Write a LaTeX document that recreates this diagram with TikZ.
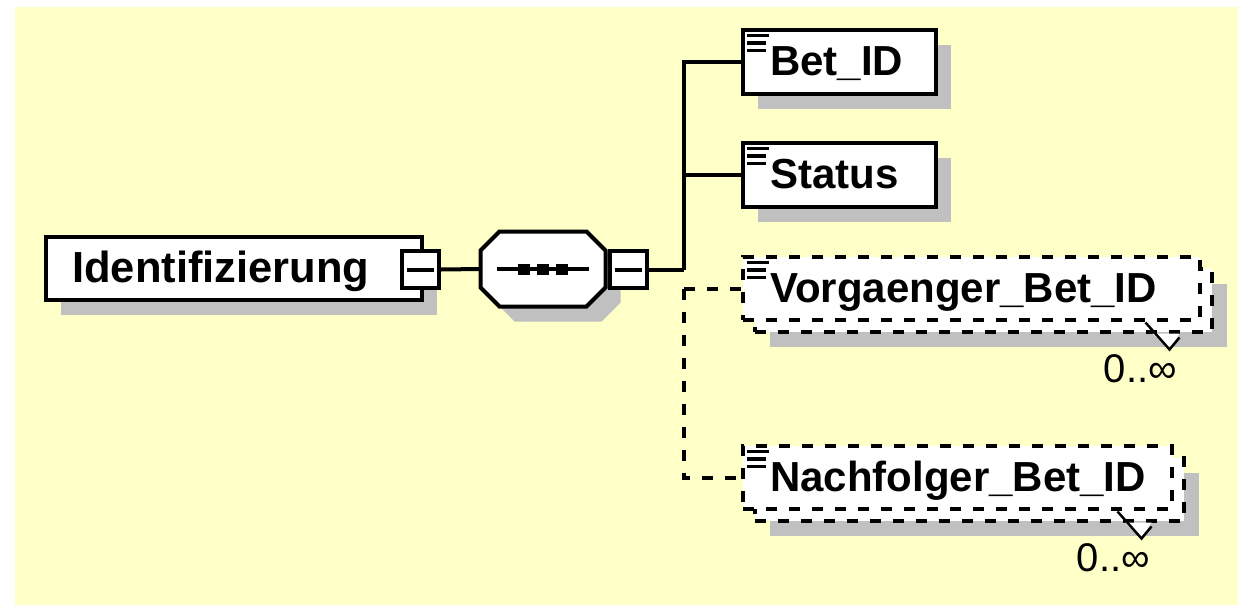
\documentclass[tikz,border=0pt]{standalone}
\usepackage{fontspec}
\setmainfont{Liberation Sans}
\usetikzlibrary{shadows}
\definecolor{bgyellow}{RGB}{255,255,200}
\definecolor{shadowgray}{RGB}{192,192,192}
\tikzset{
  shad/.style={drop shadow={shadow xshift=15pt,shadow yshift=-15pt,fill=shadowgray,opacity=1}},
  elbox/.style={draw=black,line width=4pt,fill=white,inner sep=0pt,anchor=north west},
  eltext/.style={font=\bfseries\fontsize{42}{42}\selectfont,inner sep=0pt,anchor=base west},
  dsh/.style={dash pattern=on 11pt off 12pt},
  conn/.style={line width=4pt},
  minusbox/.style={draw=black,line width=4pt,fill=white,minimum size=37pt,inner sep=0pt},
  occ/.style={font=\fontsize{40}{40}\selectfont,inner sep=0pt,anchor=base east},
  notchline/.style={line width=2.5pt},
}
\newcommand\elicon[1]{%
  \foreach \dy/\len in {7.5/22,15/19,22.5/19}
    \draw[line width=3.2pt] ([xshift=6pt,yshift=-\dy pt]#1.north west) -- ++(\len,0);}
\newcommand\elnotch[1]{%
  \fill[white] ([xshift=-61pt]#1.south east) -- ([xshift=-44pt,yshift=-16pt]#1.south east) -- ([xshift=-34pt]#1.south east) -- cycle;
  \draw[notchline] ([xshift=-68pt,yshift=11pt]#1.south east) -- ([xshift=-44pt,yshift=-16pt]#1.south east) -- ([xshift=-34pt,yshift=-4pt]#1.south east);}
% octagon around node #1, shifted by (#3,#4), path options #2
\newcommand\octshape[4]{%
  \path[#2] ([xshift=#3-43.5pt,yshift=#4+37.5pt]#1.center) -- ([xshift=#3+43.5pt,yshift=#4+37.5pt]#1.center)
    -- ([xshift=#3+62.5pt,yshift=#4+18.5pt]#1.center) -- ([xshift=#3+62.5pt,yshift=#4-18.5pt]#1.center)
    -- ([xshift=#3+43.5pt,yshift=#4-37.5pt]#1.center) -- ([xshift=#3-43.5pt,yshift=#4-37.5pt]#1.center)
    -- ([xshift=#3-62.5pt,yshift=#4-18.5pt]#1.center) -- ([xshift=#3-62.5pt,yshift=#4+18.5pt]#1.center) -- cycle;}
\begin{document}
\begin{tikzpicture}[x=1pt,y=-1pt]
\useasboundingbox (0,0) rectangle (1238,605);
\fill[white] (0,0) rectangle (1238,605);
\fill[bgyellow] (15,7) rectangle (1238,605);

% root element
\node[elbox,shad,minimum width=376pt,minimum height=63pt] (ident) at (44,235) {};
\node[eltext,font=\bfseries\fontsize{43.5}{43.5}\selectfont] (identtxt) at ([xshift=28pt,yshift=-47.5pt]ident.north west) {Identifizierung};
\node[minusbox] (m1) at (420.5,269.5) {\rule{27pt}{4pt}};

% sequence compositor
\node[inner sep=0pt,minimum width=125pt,minimum height=75pt] (seq) at (543,269) {};
\octshape{seq}{fill=shadowgray}{15pt}{-15pt}
\octshape{seq}{draw=black,fill=white,line width=4pt}{0pt}{0pt}
\draw[conn] ([xshift=-46pt]seq.center) -- ([xshift=46pt]seq.center);
\foreach \dx in {-19,0,19}
  \fill ([xshift=\dx pt-6pt,yshift=-5.5pt]seq.center) rectangle ([xshift=\dx pt+6pt,yshift=5.5pt]seq.center);
\node[minusbox] (m2) at (628,269.5) {\rule{27pt}{4pt}};

% children
\node[elbox,shad,minimum width=193pt,minimum height=64pt] (bet) at (741,28) {};
\elicon{bet}
\node[eltext] (bettxt) at ([xshift=29pt,yshift=-47pt]bet.north west) {Bet\_ID};

\node[elbox,shad,minimum width=193pt,minimum height=64pt] (stat) at (741,141) {};
\elicon{stat}
\node[eltext] (stattxt) at ([xshift=29pt,yshift=-47pt]stat.north west) {Status};

\node[elbox,dsh,shad,minimum width=457pt,minimum height=63pt] (vorb) at (752.5,266.5) {};
\node[elbox,dsh,minimum width=457pt,minimum height=63pt] (vor) at (741,255) {};
\elicon{vor}
\node[eltext] (vortxt) at ([xshift=29pt,yshift=-47pt]vor.north west) {Vorgaenger\_Bet\_ID};
\elnotch{vorb}
\node[occ] (vorocc) at (1177,382) {0..∞};

\node[elbox,dsh,shad,minimum width=429pt,minimum height=63pt] (nachb) at (752.5,455.5) {};
\node[elbox,dsh,minimum width=429pt,minimum height=63pt] (nach) at (741,444) {};
\elicon{nach}
\node[eltext] (nachtxt) at ([xshift=29pt,yshift=-47pt]nach.north west) {Nachfolger\_Bet\_ID};
\elnotch{nachb}
\node[occ] (nachocc) at (1150,571) {0..∞};

% connectors
\coordinate (bus) at (684,269.5);
\draw[conn] (m1.east) -- (seq.west);
\draw[conn] (m2.east) -- (bus);
\draw[conn] (bus) |- (bet.west);
\draw[conn] (bus) |- (stat.west);
\draw[conn,dsh] (vor.west -| bus) -- (vor.west);
\draw[conn,dsh] (vor.west -| bus) -- (nach.west -| bus) -- (nach.west);
\end{tikzpicture}
\end{document}
